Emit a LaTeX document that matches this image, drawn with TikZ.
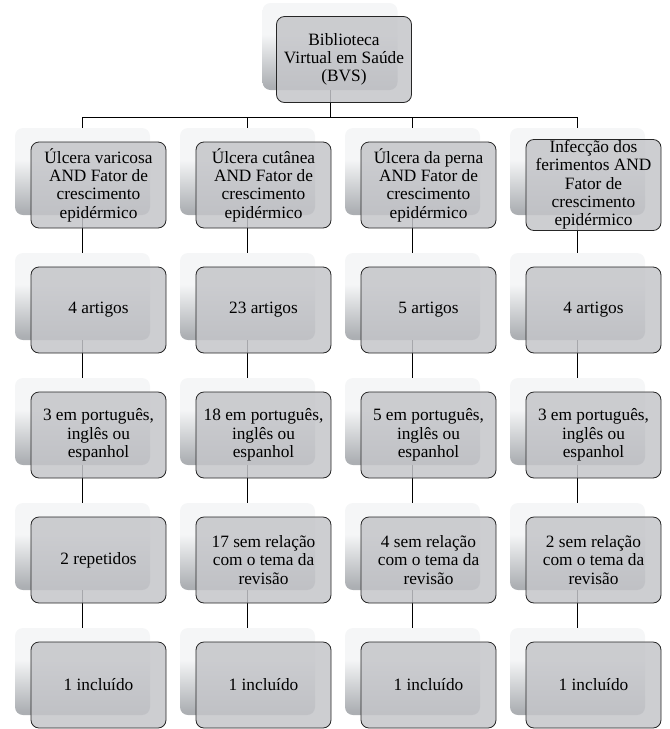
\documentclass[tikz,border=0pt]{standalone}
\usepackage{fontspec}
\setmainfont{Liberation Serif}
\definecolor{frontfill}{RGB}{196,197,201}
\definecolor{backtop}{RGB}{245,246,247}
\definecolor{backbot}{RGB}{172,175,179}
\pgfdeclareverticalshading{cardshade}{100bp}{color(0bp)=(backbot); color(27bp)=(backbot); color(57bp)=(backtop); color(100bp)=(backtop)}
\tikzset{
  back/.style={rounded corners=8pt, shading=cardshade, draw=none,
    minimum width=135pt, minimum height=87pt, inner sep=0pt},
  front/.style={rounded corners=8pt, draw=black!85, line width=0.8pt,
    fill=frontfill, fill opacity=0.85, text opacity=1,
    minimum width=135pt, minimum height=86pt, inner sep=1pt,
    align=center, font=\fontsize{17.3}{18.3}\selectfont},
  conn/.style={draw=black, line width=0.8pt}
}
\begin{document}
\begin{tikzpicture}[x=1pt,y=-1pt]
\useasboundingbox (0,0) rectangle (670,729);
% back cards
\node[back] (b0) at (330,46.5) {};
\foreach \c in {1,...,4}
  \foreach \r in {1,...,5}
    \node[back] (b\r\c) at ({82.5+165*(\c-1)},{171.5+125*(\r-1)}) {};
% connectors
\coordinate (bar) at (0,117);
\draw[conn] (b0.south) -- (b0.south |- bar);
\draw[conn] (b11.north |- bar) -- (b14.north |- bar);
\foreach \c in {1,...,4} {
  \draw[conn] (b1\c.north |- bar) -- (b1\c.north);
  \draw[conn] (b1\c.south) -- (b2\c.north);
  \draw[conn] (b2\c.south) -- (b3\c.north);
  \draw[conn] (b3\c.south) -- (b4\c.north);
  \draw[conn] (b4\c.south) -- (b5\c.north);
}
% front boxes
\node[front] (f0) at ([shift={(14,13)}]b0.center) {Biblioteca\\Virtual em Saúde\\(BVS)};
\node[front] (f11) at ([shift={(16,13.5)}]b11.center) {Úlcera varicosa\\AND Fator de\\crescimento\\epidérmico};
\node[front] (f12) at ([shift={(16,13.5)}]b12.center) {Úlcera cutânea\\AND Fator de\\crescimento\\epidérmico};
\node[front] (f13) at ([shift={(16,13.5)}]b13.center) {Úlcera da perna\\AND Fator de\\crescimento\\epidérmico};
\node[front] (f14) at ([shift={(16,13.5)}]b14.center) {Infecção dos\\ferimentos AND\\Fator de\\crescimento\\epidérmico};
\node[front] (f21) at ([shift={(16,13.5)}]b21.center) {4 artigos};
\node[front] (f22) at ([shift={(16,13.5)}]b22.center) {23 artigos};
\node[front] (f23) at ([shift={(16,13.5)}]b23.center) {5 artigos};
\node[front] (f24) at ([shift={(16,13.5)}]b24.center) {4 artigos};
\node[front] (f31) at ([shift={(16,13.5)}]b31.center) {3 em português,\\inglês ou\\espanhol};
\node[front] (f32) at ([shift={(16,13.5)}]b32.center) {18 em português,\\inglês ou\\espanhol};
\node[front] (f33) at ([shift={(16,13.5)}]b33.center) {5 em português,\\inglês ou\\espanhol};
\node[front] (f34) at ([shift={(16,13.5)}]b34.center) {3 em português,\\inglês ou\\espanhol};
\node[front] (f41) at ([shift={(16,13.5)}]b41.center) {2 repetidos};
\node[front] (f42) at ([shift={(16,13.5)}]b42.center) {17 sem relação\\com o tema da\\revisão};
\node[front] (f43) at ([shift={(16,13.5)}]b43.center) {4 sem relação\\com o tema da\\revisão};
\node[front] (f44) at ([shift={(16,13.5)}]b44.center) {2 sem relação\\com o tema da\\revisão};
\node[front] (f51) at ([shift={(16,13.5)}]b51.center) {1 incluído};
\node[front] (f52) at ([shift={(16,13.5)}]b52.center) {1 incluído};
\node[front] (f53) at ([shift={(16,13.5)}]b53.center) {1 incluído};
\node[front] (f54) at ([shift={(16,13.5)}]b54.center) {1 incluído};
\end{tikzpicture}
\end{document}
